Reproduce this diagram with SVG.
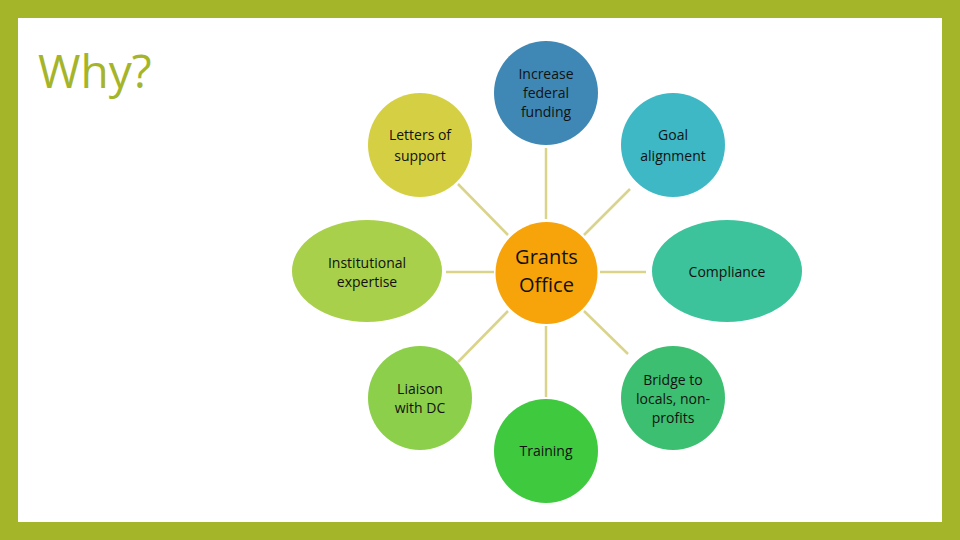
<svg xmlns="http://www.w3.org/2000/svg" width="960" height="540" viewBox="0 0 960 540">
<style>
.t{font-family:"Open Sans","Liberation Sans",sans-serif;font-size:14px;fill:#111;text-anchor:middle}
.c line{stroke:#d9d48a;stroke-width:2.5}
</style>
<rect width="960" height="540" fill="#a5b52a"/>
<rect x="18" y="18" width="924" height="504" fill="#fff"/>
<text x="38" y="88" style="font-family:'Open Sans','Liberation Sans',sans-serif;font-size:46px;fill:#a5b52a">Why?</text>
<g class="c">
<line x1="546" y1="148" x2="546" y2="219"/>
<line x1="546" y1="326" x2="546" y2="397"/>
<line x1="446" y1="272" x2="494" y2="272"/>
<line x1="600" y1="272" x2="646" y2="272"/>
<line x1="508" y1="235" x2="458" y2="184"/>
<line x1="584" y1="235" x2="630" y2="189"/>
<line x1="508" y1="311" x2="458" y2="362"/>
<line x1="584" y1="311" x2="628" y2="354"/>
</g>
<g id="funding"><circle cx="546" cy="93" r="52" fill="#3f88b5"/><text class="t" x="546" y="79">Increase</text><text class="t" x="546" y="98">federal</text><text class="t" x="546" y="117">funding</text></g>
<g id="letters"><circle cx="420" cy="145" r="52" fill="#d5d043"/><text class="t" x="420" y="140">Letters of</text><text class="t" x="420" y="161">support</text></g>
<g id="goal"><circle cx="673" cy="145" r="52" fill="#3db8c4"/><text class="t" x="673" y="140">Goal</text><text class="t" x="673" y="161">alignment</text></g>
<g id="inst"><ellipse cx="367" cy="271" rx="75" ry="51" fill="#a8d04a"/><text class="t" x="367" y="268">Institutional</text><text class="t" x="367" y="287">expertise</text></g>
<g id="grants"><circle cx="546.5" cy="273" r="51" fill="#f7a30a"/><text class="t" x="546.5" y="264" style="font-size:20px">Grants</text><text class="t" x="546.5" y="292" style="font-size:20px">Office</text></g>
<g id="compliance"><ellipse cx="727" cy="271" rx="75" ry="51" fill="#3cc39b"/><text class="t" x="727" y="277">Compliance</text></g>
<g id="liaison"><circle cx="420" cy="398" r="52" fill="#8ccf4a"/><text class="t" x="420" y="394">Liaison</text><text class="t" x="420" y="413">with DC</text></g>
<g id="bridge"><circle cx="673" cy="398" r="52" fill="#3cbf70"/><text class="t" x="673" y="385">Bridge to</text><text class="t" x="673" y="404">locals, non-</text><text class="t" x="673" y="423">profits</text></g>
<g id="training"><circle cx="546" cy="451" r="52" fill="#3fc93f"/><text class="t" x="546" y="456">Training</text></g>
</svg>
